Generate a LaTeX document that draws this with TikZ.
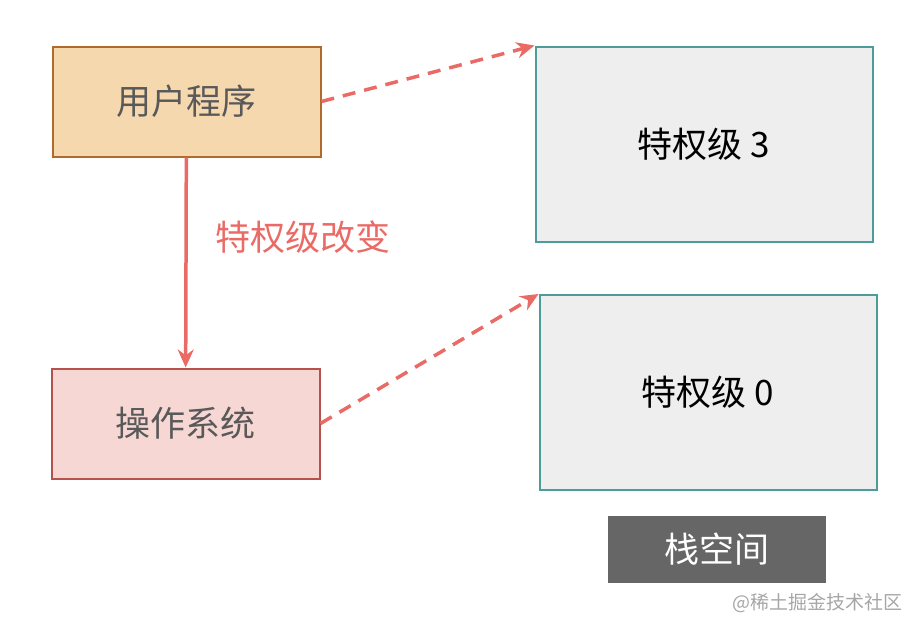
\documentclass[tikz,border=0pt]{standalone}
\usepackage{fontspec}
\newfontfamily\cjk{Noto Sans CJK SC}
\usetikzlibrary{arrows.meta}
\definecolor{userfill}{HTML}{F5D8AE}
\definecolor{userline}{HTML}{B06B2C}
\definecolor{osfill}{HTML}{F7D7D4}
\definecolor{osline}{HTML}{B5524E}
\definecolor{stackfill}{HTML}{EEEEEE}
\definecolor{stackline}{HTML}{4E9C9A}
\definecolor{changered}{HTML}{EA6B66}
\definecolor{legendfill}{HTML}{666666}
\tikzset{
    progbox/.style={draw, line width=2pt, minimum width=268pt, minimum height=110pt,
        text=black!65, font=\cjk\fontsize{35}{40}\selectfont},
    levelbox/.style={draw=stackline, fill=stackfill, line width=2pt, minimum width=337pt,
        minimum height=195pt, font=\cjk\fontsize{35}{40}\selectfont},
    jump/.style={changered, line width=3.5pt, dash pattern=on 13pt off 9pt,
        -{Stealth[length=18pt,width=16pt]}},
}

\begin{document}
\begin{tikzpicture}[x=1pt,y=-1pt]
            \useasboundingbox (0,0) rectangle (922,632);
            \node[progbox, fill=userfill, draw=userline](user) at (186.5,101.5) {用户程序};
            \node[progbox, fill=osfill, draw=osline](os) at (185.5,423.5) {操作系统};
            \node[levelbox](lvl3) at (704,144) {特权级 3};
            \node[levelbox](lvl0) at (708,392.5) {特权级 0};
            \node[fill=legendfill, text=white, minimum width=218pt, minimum height=67pt,
                font=\cjk\fontsize{35}{40}\selectfont](stack) at (717,549.5) {栈空间};
            \node[text=changered, font=\cjk\fontsize{35}{40}\selectfont](change) at (303,237) {特权级改变};
            \node[text=black!35, font=\cjk\fontsize{19}{22}\selectfont, anchor=east](mark) at (906,603) {@稀土掘金技术社区};
            \draw[changered, line width=3.5pt, -{Stealth[length=18pt,width=16pt]}] (user) -- (os);
            \draw[jump] (user.east) -- (lvl3.north west);
            \draw[jump] (os.east) -- (lvl0.north west);
        \end{tikzpicture}
\end{document}
